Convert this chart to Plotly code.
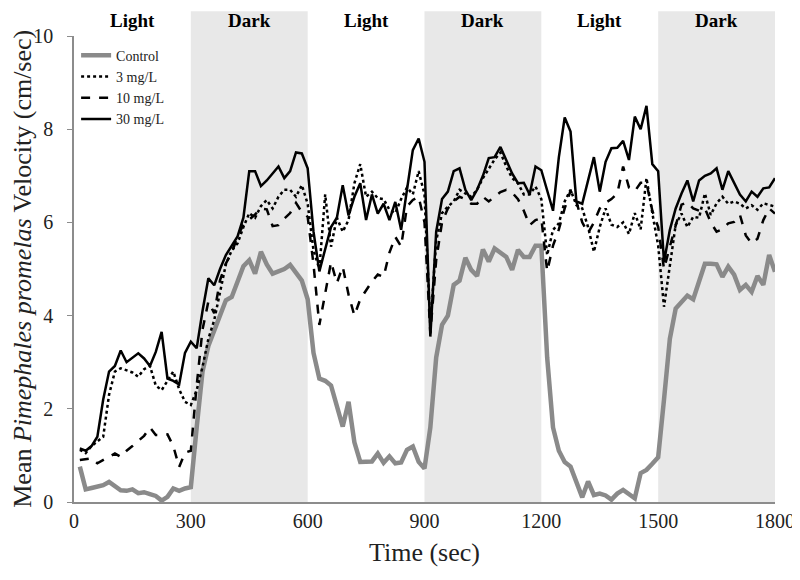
import plotly.graph_objects as go

# Time points (sec)
time_sec = list(range(15, 1801, 15))

control = [0.76, 0.27, 0.30, 0.33, 0.36, 0.43, 0.33, 0.25, 0.24, 0.27,
           0.19, 0.21, 0.17, 0.13, 0.03, 0.11, 0.29, 0.24, 0.29, 0.32,
           1.60, 2.80, 3.35, 3.70, 4.05, 4.33, 4.40, 4.70, 5.06, 5.19,
           4.90, 5.37, 5.10, 4.90, 4.95, 5.00, 5.09, 4.90, 4.75, 4.35,
           3.20, 2.65, 2.60, 2.50, 2.05, 1.62, 2.15, 1.28, 0.86, 0.86,
           0.87, 1.04, 0.84, 0.98, 0.83, 0.85, 1.12, 1.19, 0.86, 0.72,
           1.60, 3.10, 3.80, 4.00, 4.66, 4.75, 5.24, 4.98, 4.85, 5.42,
           5.16, 5.44, 5.35, 5.26, 4.98, 5.41, 5.26, 5.26, 5.50, 5.50,
           3.10, 1.60, 1.10, 0.86, 0.76, 0.45, 0.10, 0.44, 0.15, 0.18,
           0.14, 0.05, 0.18, 0.26, 0.16, 0.08, 0.62, 0.69, 0.82, 0.96,
           2.20, 3.50, 4.15, 4.28, 4.43, 4.35, 4.75, 5.11, 5.11, 5.10,
           4.83, 5.05, 4.88, 4.55, 4.66, 4.51, 4.85, 4.66, 5.30, 4.94]

mg3 = [1.12, 1.05, 1.20, 1.30, 1.40, 2.30, 2.80, 2.87, 2.83, 2.78,
       2.69, 2.85, 2.92, 2.50, 2.40, 2.60, 2.80, 2.42, 2.15, 2.08,
       2.40, 2.90, 3.50, 3.90, 4.50, 5.10, 5.40, 5.55, 5.90, 6.20,
       6.10, 6.35, 6.48, 6.30, 6.55, 6.70, 6.70, 6.55, 6.80, 6.40,
       5.40, 5.00, 6.60, 5.48, 6.10, 5.80, 6.05, 6.84, 7.25, 6.55,
       6.66, 6.52, 6.50, 6.27, 6.20, 6.50, 6.75, 6.60, 7.10, 6.60,
       3.76, 5.60, 6.20, 6.34, 6.45, 6.70, 6.62, 6.55, 6.70, 6.95,
       7.15, 7.35, 7.50, 7.20, 6.95, 6.84, 6.60, 6.60, 6.77, 6.50,
       5.30, 5.84, 5.98, 6.45, 6.70, 6.37, 6.30, 5.90, 5.37, 5.90,
       6.30, 5.95, 5.90, 6.00, 5.75, 6.20, 5.85, 6.95, 6.20, 5.50,
       4.19, 5.12, 5.95, 6.19, 5.90, 6.12, 6.10, 6.62, 6.16, 6.41,
       6.55, 6.40, 6.45, 6.40, 6.30, 6.37, 6.27, 6.41, 6.37, 6.34]

mg10 = [0.90, 0.92, 0.94, 0.83, 0.90, 0.97, 1.04, 0.97, 1.10, 1.20,
        1.30, 1.42, 1.60, 1.44, 1.44, 1.45, 1.20, 0.75, 1.06, 1.10,
        2.50, 3.70, 4.30, 4.05, 4.76, 5.12, 5.35, 5.70, 5.95, 6.05,
        6.17, 6.30, 6.28, 5.92, 5.94, 6.08, 6.20, 6.42, 6.22, 6.12,
        5.10, 3.80, 4.45, 5.15, 4.70, 5.05, 4.45, 4.00, 4.35, 4.55,
        4.73, 4.88, 4.83, 5.35, 5.69, 5.48, 6.34, 6.48, 6.55, 6.00,
        3.62, 5.19, 6.00, 6.30, 6.45, 6.55, 6.50, 6.40, 6.40, 6.55,
        6.45, 6.55, 6.65, 6.70, 6.64, 6.50, 6.25, 5.94, 6.05, 6.09,
        4.95, 5.50, 5.85, 6.30, 6.68, 6.45, 6.00, 5.77, 6.00, 6.30,
        6.42, 6.50, 6.62, 7.20, 6.75, 6.67, 6.85, 6.85, 6.25, 5.90,
        5.00, 5.48, 5.95, 6.38, 6.43, 6.30, 6.25, 6.30, 6.00, 5.80,
        5.85, 5.98, 6.01, 6.16, 5.72, 5.55, 5.65, 6.05, 6.30, 6.19]

mg30 = [1.15, 1.10, 1.20, 1.40, 2.20, 2.80, 2.92, 3.25, 3.00, 3.10,
        3.19, 3.08, 2.92, 3.22, 3.65, 2.65, 2.60, 2.52, 3.20, 3.44,
        3.30, 4.10, 4.80, 4.65, 5.00, 5.30, 5.50, 5.70, 6.10, 7.10,
        7.10, 6.78, 6.90, 7.05, 7.20, 6.95, 7.10, 7.50, 7.48, 7.16,
        5.80, 4.95, 5.40, 5.90, 6.10, 6.80, 6.15, 6.55, 6.84, 6.05,
        6.60, 6.19, 6.40, 6.05, 6.44, 5.84, 6.70, 7.55, 7.80, 7.30,
        3.55, 5.80, 6.50, 6.66, 7.10, 7.16, 6.70, 6.48, 6.70, 7.00,
        7.38, 7.40, 7.62, 7.35, 7.05, 6.84, 6.85, 6.60, 7.20, 7.12,
        6.70, 6.25, 7.40, 8.25, 7.95, 6.45, 6.40, 6.90, 7.40, 6.66,
        7.30, 7.59, 7.60, 7.75, 7.34, 8.27, 8.00, 8.50, 7.25, 7.10,
        5.15, 5.84, 6.30, 6.62, 6.90, 6.45, 6.90, 7.00, 7.05, 7.16,
        6.70, 7.10, 6.85, 6.60, 6.45, 6.66, 6.55, 6.73, 6.75, 6.95]

period_labels = ["Light", "Dark", "Light", "Dark", "Light", "Dark"]
period_starts = [0, 300, 600, 900, 1200, 1500]
period_len = 300
x_ticks = [0, 300, 600, 900, 1200, 1500, 1800]
y_ticks = [0, 2, 4, 6, 8, 10]

FONT = "Liberation Serif, Times New Roman, serif"

fig = go.Figure()
fig.add_trace(go.Scatter(x=time_sec, y=control, mode="lines", name="Control",
                         line=dict(color="#8a8a8a", width=4.5)))
fig.add_trace(go.Scatter(x=time_sec, y=mg3, mode="lines", name="3 mg/L",
                         line=dict(color="black", width=2.5, dash="dot")))
fig.add_trace(go.Scatter(x=time_sec, y=mg10, mode="lines", name="10 mg/L",
                         line=dict(color="black", width=2.5, dash="dash")))
fig.add_trace(go.Scatter(x=time_sec, y=mg30, mode="lines", name="30 mg/L",
                         line=dict(color="black", width=2.5)))

shapes = []
annotations = []
for lab, s in zip(period_labels, period_starts):
    if lab == "Dark":
        shapes.append(dict(type="rect", xref="x", yref="paper", x0=s, x1=s + period_len,
                           y0=0, y1=1.053, fillcolor="#e8e8e8", line=dict(width=0),
                           layer="below"))
    annotations.append(dict(x=s + period_len / 2, y=1.034, xref="x", yref="paper",
                            text="<b>%s</b>" % lab, showarrow=False, yanchor="middle",
                            font=dict(family=FONT, size=19, color="black")))

annotations.append(dict(x=-0.0745, y=0.5, xref="paper", yref="paper", textangle=-90,
                        text="Mean <i>Pimephales promelas</i> Velocity (cm/sec)",
                        showarrow=False, xanchor="center", yanchor="middle",
                        font=dict(family=FONT, size=26, color="#222")))
annotations.append(dict(x=0.5, y=-0.109, xref="paper", yref="paper",
                        text="Time (sec)", showarrow=False, xanchor="center",
                        yanchor="middle", font=dict(family=FONT, size=26, color="#222")))

fig.update_layout(
    width=800, height=580,
    margin=dict(l=66, r=33, t=28, b=86, autoexpand=False),
    paper_bgcolor="white", plot_bgcolor="white",
    shapes=shapes, annotations=annotations,
    showlegend=True,
    legend=dict(x=0.003, y=0.992, xanchor="left", yanchor="top",
                bgcolor="rgba(0,0,0,0)", font=dict(family=FONT, size=14, color="#222"),
                tracegroupgap=0),
    xaxis=dict(range=[0, 1800], tickvals=x_ticks, showgrid=False, zeroline=False,
               automargin=False,
               showline=True, linecolor="#8c8c8c", linewidth=1.5, ticks="",
               tickfont=dict(family=FONT, size=20, color="#222")),
    yaxis=dict(range=[0, 10], tickvals=y_ticks, showgrid=False, zeroline=False,
               automargin=False,
               showline=True, linecolor="#8c8c8c", linewidth=1.5, ticks="outside",
               ticklen=5, tickcolor="#8c8c8c", ticklabelstandoff=10,
               tickfont=dict(family=FONT, size=20, color="#222")),
)

fig.write_html("out.html")
